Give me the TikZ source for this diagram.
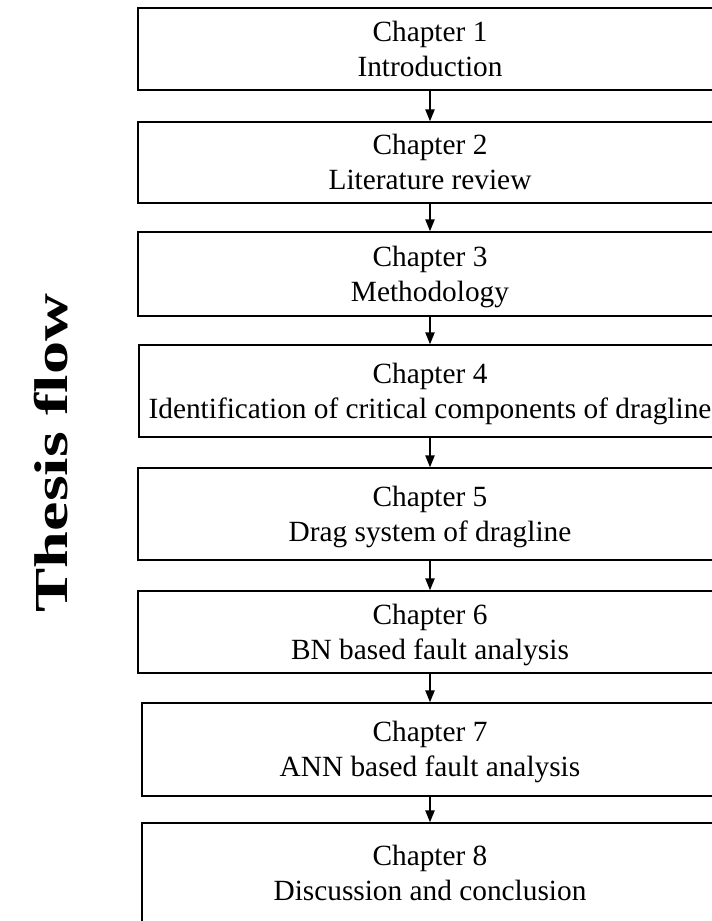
\documentclass[tikz,border=0pt]{standalone}
\usepackage{fontspec}
\setmainfont{Liberation Serif}
\usetikzlibrary{arrows.meta}
\newcommand{\chapline}[2]{\smash{#1}\rule{0pt}{14.6pt}\\\smash{#2}}
\begin{document}
\begin{tikzpicture}[x=0.75pt,y=-0.75pt,
  chapbox/.style={draw,line width=1.1pt,inner sep=0pt,align=center,
    font=\fontsize{22pt}{26.25pt}\selectfont},
  arr/.style={line width=1.1pt,-{Triangle[length=9pt,width=7pt]}}]
\useasboundingbox (0,0) rectangle (712,921);
\node[chapbox,minimum width=584*0.75pt,minimum height=82*0.75pt] (b1) at (430,49) {\chapline{Chapter 1}{Introduction}};
\node[chapbox,minimum width=584*0.75pt,minimum height=81*0.75pt] (b2) at (430,162.5) {\chapline{Chapter 2}{Literature review}};
\node[chapbox,minimum width=584*0.75pt,minimum height=84*0.75pt] (b3) at (430,274) {\chapline{Chapter 3}{Methodology}};
\node[chapbox,minimum width=582*0.75pt,minimum height=92*0.75pt] (b4) at (430,391) {\chapline{Chapter 4}{Identification of critical components of dragline}};
\node[chapbox,minimum width=584*0.75pt,minimum height=92*0.75pt] (b5) at (430,514) {\chapline{Chapter 5}{Drag system of dragline}};
\node[chapbox,minimum width=584*0.75pt,minimum height=82*0.75pt] (b6) at (430,632) {\chapline{Chapter 6}{BN based fault analysis}};
\node[chapbox,minimum width=576*0.75pt,minimum height=93*0.75pt] (b7) at (430,749.5) {\chapline{Chapter 7}{ANN based fault analysis}};
\node[chapbox,minimum width=576*0.75pt,minimum height=101*0.75pt] (b8) at (430,873.5) {\chapline{Chapter 8}{Discussion and conclusion}};
\draw[arr] (b1) -- (b2);
\draw[arr] (b2) -- (b3);
\draw[arr] (b3) -- (b4);
\draw[arr] (b4) -- (b5);
\draw[arr] (b5) -- (b6);
\draw[arr] (b6) -- (b7);
\draw[arr] (b7) -- (b8);
\node[rotate=90,anchor=base,inner sep=0pt,font=\fontsize{35.5pt}{40pt}\selectfont\bfseries] (title) at (67,453) {\scalebox{1.4}[1]{Thesis flow}};
\end{tikzpicture}
\end{document}
